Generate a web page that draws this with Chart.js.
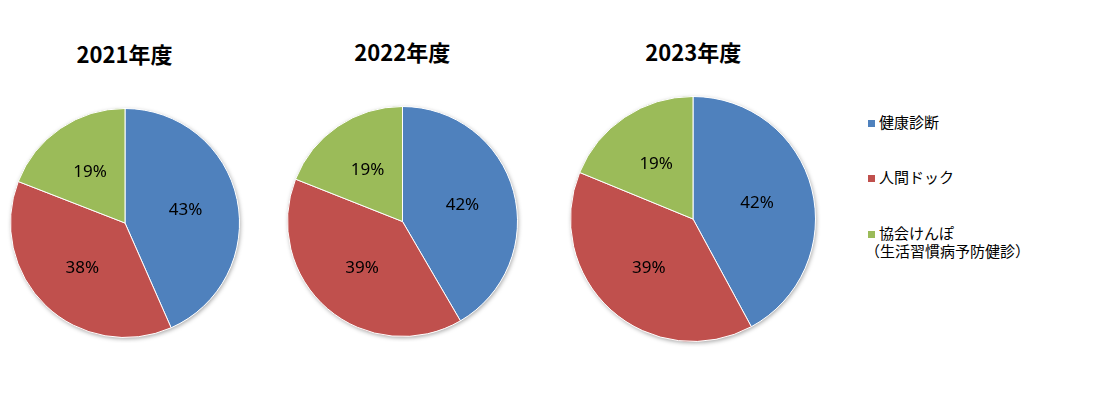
<!DOCTYPE html>
<html lang="ja">
<head>
<meta charset="utf-8">
<script src="https://cdn.jsdelivr.net/npm/chart.js@4/dist/chart.umd.min.js"></script>
<style>
  body { margin: 0; background: #fff; width: 1102px; height: 394px; position: relative; overflow: hidden; }
  .title { position: absolute; width: 200px; text-align: center; font: bold 22px "Noto Sans CJK JP", sans-serif; color: #000; line-height: 1; }
  canvas { position: absolute; }
  .legend { position: absolute; left: 868px; font: 15px "Noto Sans CJK JP", sans-serif; color: #000; line-height: 18px; }
  .legend .sw { display: inline-block; width: 7px; height: 7px; margin-right: 4px; vertical-align: 1px; }
</style>
</head>
<body>
<div id="container"></div>
<div class="legend" id="legend"></div>
<script>
const CATEGORIES = ["健康診断", "人間ドック", "協会けんぽ\n（生活習慣病予防健診）"];
const YEARS = ["2021年度", "2022年度", "2023年度"];
const VALUES_2021 = [43.4, 37.5, 19.1];
const VALUES_2022 = [41.6, 39.4, 19.0];
const VALUES_2023 = [42.1, 39.1, 18.8];
const COLORS = ["#4F81BD", "#C0504D", "#9BBB59"];

// where each pie sits on the page (center x, center y, radius)
const PLACES = [
    { cx: 124.5, cy: 222.5, r: 114.5, ty: 42 },
    { cx: 402.3, cy: 221, r: 115, ty: 40 },
    { cx: 693.2, cy: 219.2, r: 122.3, ty: 40 }
];
const PAD = 5;

const shadowPlugin = {
    id: "shadow",
    beforeDatasetsDraw(chart) {
        const arc = chart.getDatasetMeta(0).data[0];
        if (!arc) return;
        const ctx = chart.ctx;
        ctx.save();
        ctx.shadowColor = "rgba(0,0,0,0.35)";
        ctx.shadowBlur = 4;
        ctx.shadowOffsetX = 1;
        ctx.shadowOffsetY = 1.5;
        ctx.fillStyle = "#fff";
        ctx.beginPath();
        ctx.arc(arc.x, arc.y, arc.outerRadius, 0, Math.PI * 2);
        ctx.fill();
        ctx.restore();
    }
};

const labelPlugin = {
    id: "pctLabels",
    afterDatasetsDraw(chart) {
        const ctx = chart.ctx;
        const data = chart.data.datasets[0].data;
        const total = data.reduce((a, b) => a + b, 0);
        ctx.save();
        ctx.font = '17px "Noto Sans", sans-serif';
        ctx.fillStyle = "#000";
        ctx.textAlign = "center";
        ctx.textBaseline = "middle";
        chart.getDatasetMeta(0).data.forEach((arc, i) => {
            const mid = (arc.startAngle + arc.endAngle) / 2;
            const d = arc.outerRadius * 0.54;
            ctx.fillText(Math.round(data[i] / total * 100) + "%", arc.x + Math.cos(mid) * d, arc.y + Math.sin(mid) * d);
        });
        ctx.restore();
    }
};

function makePie(values, year, place) {
    const container = document.getElementById("container");
    const title = document.createElement("div");
    title.className = "title";
    title.textContent = year;
    title.style.left = (place.cx - 100) + "px";
    title.style.top = place.ty + "px";
    container.append(title);

    const size = Math.round(place.r * 2 + 1 + PAD * 2);
    const canvas = document.createElement("canvas");
    canvas.width = size;
    canvas.height = size;
    canvas.style.width = size + "px";
    canvas.style.height = size + "px";
    canvas.style.left = (place.cx - size / 2) + "px";
    canvas.style.top = (place.cy - size / 2) + "px";
    container.append(canvas);

    new Chart(canvas, {
        type: "pie",
        data: {
            labels: CATEGORIES,
            datasets: [{
                data: values,
                backgroundColor: COLORS,
                borderColor: "#fff",
                borderWidth: 1
            }]
        },
        options: {
            responsive: false,
            animation: false,
            layout: { padding: PAD },
            plugins: { legend: { display: false }, tooltip: { enabled: false } }
        },
        plugins: [shadowPlugin, labelPlugin]
    });
}

makePie(VALUES_2021, YEARS[0], PLACES[0]);
makePie(VALUES_2022, YEARS[1], PLACES[1]);
makePie(VALUES_2023, YEARS[2], PLACES[2]);

// legend
const legend = document.getElementById("legend");
const legendTops = [113, 168, 224];
CATEGORIES.forEach((name, i) => {
    const item = document.createElement("div");
    item.style.position = "absolute";
    item.style.top = legendTops[i] + "px";
    item.style.whiteSpace = "nowrap";
    const lines = name.split("\n");
    item.innerHTML = '<span class="sw" style="background:' + COLORS[i] + '"></span>' + lines[0] +
        (lines[1] ? '<br><span style="margin-left:-3px">' + lines[1] + '</span>' : "");
    legend.append(item);
});
</script>
</body>
</html>
